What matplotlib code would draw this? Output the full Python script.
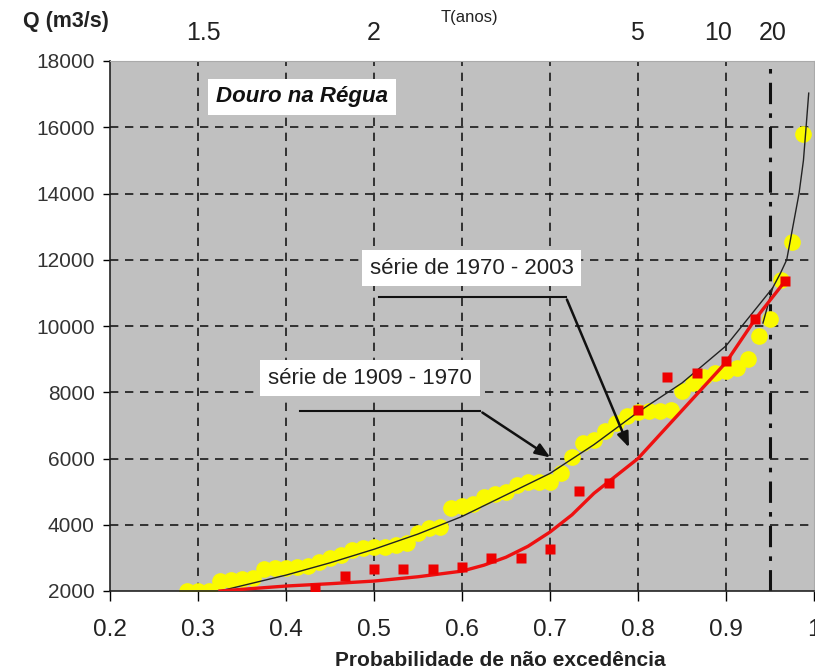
import matplotlib
matplotlib.use("Agg")
import matplotlib.pyplot as plt
import numpy as np
from matplotlib.transforms import blended_transform_factory

# ---------------- data ----------------
# yellow circles (série de 1909 - 1970): plotting positions m/80, m = 23..79
yel_p = [m / 80 for m in range(23, 80)]
yel_q = [2000, 2000, 2010, 2300, 2330, 2350, 2400, 2650, 2680, 2700,
         2720, 2760, 2880, 2990, 3100, 3230, 3300, 3330, 3340, 3400,
         3460, 3760, 3900, 3940, 4500, 4560, 4620, 4850, 4930, 5000,
         5200, 5290, 5290, 5300, 5560, 6050, 6470, 6560, 6840, 7070,
         7280, 7400, 7420, 7440, 7460, 8040, 8280, 8450, 8580, 8630,
         8720, 9000, 9700, 10210, 11390, 12540, 15800]

# red squares (série de 1970 - 2003): plotting positions k/30, k = 13..29
red_p = [k / 30 for k in range(13, 30)]
red_q = [2090, 2450, 2660, 2660, 2660, 2720, 3000, 3000, 3270, 5020,
         5260, 7460, 8460, 8580, 8950, 10210, 11360]

# fitted curve 1909-1970 (black), lower and upper branches
blk_p = [0.325, 0.40, 0.45, 0.50, 0.55, 0.60, 0.65, 0.70, 0.75, 0.80, 0.85, 0.90, 0.953]
blk_q = [2000, 2480, 2850, 3260, 3720, 4250, 4900, 5550, 6420, 7400, 8280, 9400, 11150]
blk2_p = [0.942, 0.953, 0.962, 0.969, 0.976, 0.983, 0.988, 0.991, 0.994]
blk2_q = [10090, 11150, 11600, 12000, 13000, 14000, 15000, 16000, 17030]

# fitted curve 1970-2003 (red)
rl_p = [0.325, 0.35, 0.40, 0.45, 0.50, 0.55, 0.60, 0.625, 0.65, 0.675, 0.70,
        0.725, 0.75, 0.80, 0.85, 0.90, 0.933, 0.967]
rl_q = [2000, 2050, 2150, 2220, 2300, 2430, 2600, 2780, 3020, 3350, 3780,
        4300, 4950, 6000, 7450, 8900, 10200, 11350]

x_ticks = [0.2, 0.3, 0.4, 0.5, 0.6, 0.7, 0.8, 0.9, 1.0]
x_ticklabels = ['0.2', '0.3', '0.4', '0.5', '0.6', '0.7', '0.8', '0.9', '1']
y_ticks = [2000, 4000, 6000, 8000, 10000, 12000, 14000, 16000, 18000]

t_labels = ['1.5', '2', '5', '10', '20']
t_pos = [0.306, 0.5, 0.799, 0.891, 0.953]
t20_p = 0.95

# ---------------- figure ----------------
narrow = ['Liberation Sans Narrow', 'Liberation Sans', 'DejaVu Sans']
plt.rcParams['font.family'] = ['Liberation Sans', 'DejaVu Sans']

fig = plt.figure(figsize=(8.15, 6.72), dpi=100)
ax = fig.add_axes([110 / 815, 81 / 672, 704 / 815, 530 / 672])
ax.set_facecolor('#c0c0c0')
ax.set_xlim(0.2, 1.0)
ax.set_ylim(2000, 18000)

# grid
for xv in x_ticks[1:-1]:
    ax.axvline(xv, color='#1a1a1a', lw=1.2, ls=(0, (5, 4)), zorder=1)
for yv in y_ticks[1:-1]:
    ax.axhline(yv, color='#1a1a1a', lw=1.2, ls=(0, (5, 4)), zorder=1)
ax.axvline(t20_p, color='#111111', lw=2.2, ls=(0, (7, 3, 1.5, 3)), zorder=1.5)

# data
ax.plot(yel_p, yel_q, 'o', ms=12, color='#fafa00', mec='none', zorder=2)
ax.plot(blk_p, blk_q, '-', color='#222222', lw=1.0, zorder=3)
ax.plot(blk2_p, blk2_q, '-', color='#222222', lw=1.0, zorder=3)
ax.plot(rl_p, rl_q, '-', color='#ee1111', lw=2.4, zorder=4)
ax.plot(red_p, red_q, 's', ms=7, color='#ee0000', mec='none', zorder=5)

# axes styling
ax.set_xticks(x_ticks)
ax.set_xticklabels(x_ticklabels, family=narrow, fontsize=17.5, color='#222222')
ax.set_yticks(y_ticks)
ax.set_yticklabels([str(v) for v in y_ticks], fontsize=15, color='#333333')
ax.tick_params(axis='x', direction='out', length=7, width=1, pad=13)
ax.tick_params(axis='y', direction='out', length=5, width=1, pad=6)
for s in ['left', 'bottom']:
    ax.spines[s].set_color('#222222')
    ax.spines[s].set_linewidth(1.2)
for s in ['top', 'right']:
    ax.spines[s].set_color('#aaaaaa')
    ax.spines[s].set_linewidth(0.8)

# top return-period labels
trans = blended_transform_factory(ax.transData, ax.transAxes)
for lab, pos in zip(t_labels, t_pos):
    ax.text(pos, 1.052, lab, transform=trans, ha='center', va='center',
            fontsize=18, family=narrow, color='#222222')
ax.text(0.609, 1.083, 'T(anos)', transform=trans, ha='center', va='center',
        fontsize=12, family=narrow, color='#222222')

fig.text(66 / 815, 1 - 21 / 672, 'Q (m3/s)', ha='center', va='center',
         fontsize=15.5, fontweight='bold', color='#222222')
fig.text(500 / 815, 1 - 660 / 672, 'Probabilidade de não excedência',
         ha='center', va='center', fontsize=15, fontweight='bold', color='#222222')

# text boxes
box = dict(boxstyle='square,pad=0.35', fc='white', ec='none')
ax.text(0.418, 16914, 'Douro na Régua', ha='center', va='center', fontsize=16,
        fontweight='bold', fontstyle='italic', color='#111111', bbox=box, zorder=6)
ax.text(0.611, 11750, 'série de 1970 - 2003', ha='center', va='center',
        fontsize=16, color='#222222', bbox=box, zorder=6)
ax.text(0.4955, 8430, 'série de 1909 - 1970', ha='center', va='center',
        fontsize=16, color='#222222', bbox=box, zorder=6)

# leader lines with arrows
ax.plot([0.5057, 0.718], [10876, 10876], color='#111111', lw=1.5, zorder=6)
ax.annotate('', xy=(0.791, 6257), xytext=(0.718, 10876),
            arrowprops=dict(arrowstyle='-|>,head_length=0.9,head_width=0.35',
                            color='#111111', lw=1.8), zorder=6)
ax.plot([0.416, 0.6205], [7434, 7434], color='#111111', lw=1.5, zorder=6)
ax.annotate('', xy=(0.703, 5985), xytext=(0.6205, 7434),
            arrowprops=dict(arrowstyle='-|>,head_length=0.9,head_width=0.35',
                            color='#111111', lw=1.8), zorder=6)

fig.savefig('out.png', dpi=100)
